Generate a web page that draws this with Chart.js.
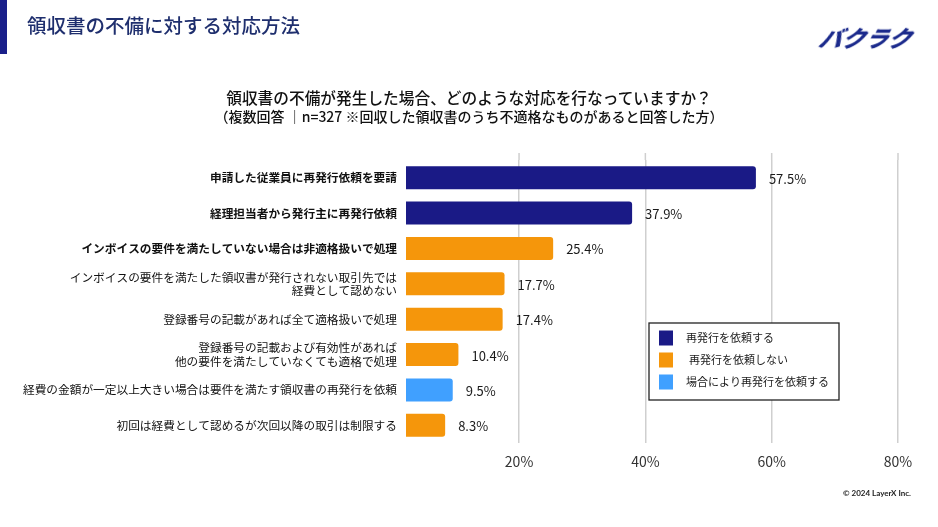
<!DOCTYPE html>
<html lang="ja">
<head>
<meta charset="utf-8">
<script src="https://cdn.jsdelivr.net/npm/chart.js@4.4.1/dist/chart.umd.min.js"></script>
<style>
  html,body{margin:0;padding:0;background:#fff;}
  body{width:938px;height:527px;position:relative;overflow:hidden;font-family:"Noto Sans CJK JP","Noto Sans",sans-serif;}
  #wrap{position:absolute;left:0;top:0;width:938px;height:527px;}
  .bar{position:absolute;left:0;top:0;width:7px;height:54px;background:#1a1f8a;}
  .title{position:absolute;left:27px;top:10px;font-size:19.5px;color:#1f2f6e;font-weight:500;white-space:nowrap;}
  .logo{position:absolute;left:820px;top:20px;font-size:23px;font-weight:900;color:#1b2a8c;font-style:italic;transform:skewX(-14deg);letter-spacing:0px;white-space:nowrap;}
  .q1{position:absolute;left:0;width:938px;top:86px;text-align:center;font-size:15.7px;color:#111;font-weight:500;white-space:nowrap;}
  .q2{position:absolute;left:0;width:938px;top:106px;text-align:center;font-size:14px;color:#111;font-weight:500;white-space:nowrap;}
  .copy{position:absolute;right:27px;top:488px;font-size:8px;font-weight:700;color:#222;font-family:"Lato","Noto Sans",sans-serif;}
</style>
</head>
<body>
<div id="wrap"><canvas id="c" width="938" height="527"></canvas></div>
<div class="bar"></div>
<div class="title">領収書の不備に対する対応方法</div>
<div class="logo">バクラク</div>
<div class="q1">領収書の不備が発生した場合、どのような対応を行なっていますか？</div>
<div class="q2">（複数回答 ｜n=327 ※回収した領収書のうち不適格なものがあると回答した方）</div>
<div class="copy">© 2024 LayerX Inc.</div>
<script>
const categories = [
  "申請した従業員に再発行依頼を要請",
  "経理担当者から発行主に再発行依頼",
  "インボイスの要件を満たしていない場合は非適格扱いで処理",
  ["インボイスの要件を満たした領収書が発行されない取引先では", "経費として認めない"],
  "登録番号の記載があれば全て適格扱いで処理",
  ["登録番号の記載および有効性があれば", "他の要件を満たしていなくても適格で処理"],
  "経費の金額が一定以上大きい場合は要件を満たす領収書の再発行を依頼",
  "初回は経費として認めるが次回以降の取引は制限する"
];
const boldCount = 3;
const seriesNames = ["再発行を依頼する", "再発行を依頼しない", "場合により再発行を依頼する"];
const requestValues   = [57.5, 37.9, null, null, null, null, null, null];
const noRequestValues = [null, null, 25.4, 17.7, 17.4, 10.4, null, 8.3];
const caseValues      = [null, null, null, null, null, null, 9.5, null];
const xTicks = [20, 40, 60, 80];
const colors = ["#1a1a86", "#f5960b", "#40a0ff"];

const FONT = '"Noto Sans CJK JP","Noto Sans",sans-serif';

const gridExtend = {
  id: 'gridExtend',
  beforeDatasetsDraw(chart) {
    const ctx = chart.ctx, xs = chart.scales.x, top = chart.chartArea.top;
    ctx.save();
    ctx.strokeStyle = '#cfcfcf';
    ctx.lineWidth = 1.5;
    xs.ticks.forEach(t => {
      const x = xs.getPixelForValue(t.value);
      ctx.beginPath();
      ctx.moveTo(x, top - 7);
      ctx.lineTo(x, top);
      ctx.stroke();
    });
    ctx.restore();
  }
};

const valueLabels = {
  id: 'valueLabels',
  afterDatasetsDraw(chart) {
    const ctx = chart.ctx;
    ctx.save();
    ctx.font = '13px ' + FONT;
    ctx.fillStyle = '#1a1a1a';
    ctx.textBaseline = 'middle';
    ctx.textAlign = 'left';
    chart.data.datasets.forEach((ds, di) => {
      const meta = chart.getDatasetMeta(di);
      meta.data.forEach((el, i) => {
        const v = ds.data[i];
        if (v === null || v === undefined) return;
        ctx.fillText(v.toFixed(1) + '%', el.x + 13, el.y + 1);
      });
    });
    ctx.restore();
  }
};

const boxLegend = {
  id: 'boxLegend',
  afterDraw(chart) {
    const ctx = chart.ctx;
    const x0 = 649, y0 = 323, w = 190, h = 77;
    ctx.save();
    ctx.fillStyle = '#ffffff';
    ctx.fillRect(x0, y0, w, h);
    ctx.strokeStyle = '#222';
    ctx.lineWidth = 1.3;
    ctx.strokeRect(x0, y0, w, h);
    ctx.font = '11px ' + FONT;
    ctx.textBaseline = 'middle';
    ctx.textAlign = 'left';
    chart.data.datasets.forEach((ds, i) => {
      const cy = y0 + 15 + i * 22;
      ctx.fillStyle = ds.backgroundColor;
      ctx.fillRect(x0 + 10, cy - 7.5, 14, 15);
      ctx.fillStyle = '#1a1a1a';
      ctx.fillText(ds.label, x0 + 37 + (i === 1 ? 3 : 0), cy);
    });
    ctx.restore();
  }
};

new Chart(document.getElementById('c'), {
  type: 'bar',
  data: {
    labels: categories,
    datasets: [
      { label: seriesNames[0], data: requestValues,   backgroundColor: colors[0] },
      { label: seriesNames[1], data: noRequestValues, backgroundColor: colors[1] },
      { label: seriesNames[2], data: caseValues,      backgroundColor: colors[2] }
    ]
  },
  options: {
    indexAxis: 'y',
    responsive: false,
    animation: false,
    devicePixelRatio: 1,
    skipNull: true,
    datasets: { bar: { barPercentage: 0.65, categoryPercentage: 1.0, borderRadius: 3, borderSkipped: 'start', skipNull: true } },
    layout: { padding: { left: 0, right: 40, top: 160, bottom: 54 } },
    plugins: { legend: { display: false }, tooltip: { enabled: false } },
    scales: {
      x: {
        min: 2.1,
        max: 80,
        afterBuildTicks: s => { s.ticks = xTicks.map(v => ({ value: v })); },
        afterFit: s => { s.height = 30; },
        grid: { color: '#cfcfcf', lineWidth: 1.5, drawTicks: false },
        border: { display: false },
        ticks: {
          padding: 10,
          color: '#333',
          font: { size: 14, family: FONT },
          callback: v => v + '%'
        }
      },
      y: {
        afterFit: s => { s.width = 406; },
        grid: { display: false, drawTicks: false },
        border: { display: false },
        ticks: {
          padding: 9,
          color: '#111',
          autoSkip: false,
          font: ctx => ({ size: 11.7, family: FONT, weight: ctx.index < boldCount ? 'bold' : 'normal', lineHeight: 1.15 })
        }
      }
    }
  },
  plugins: [gridExtend, valueLabels, boxLegend]
});
</script>
</body>
</html>
